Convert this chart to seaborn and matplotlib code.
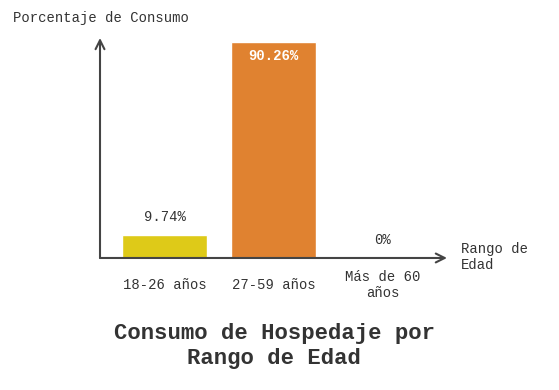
import matplotlib
matplotlib.use('Agg')
import pandas as pd
import matplotlib.pyplot as plt
import seaborn as sns

# Data
rangos = ['18-26 años', '27-59 años', 'Más de 60\naños']
consumo = [9.74, 90.26, 0.0]
etiquetas = ['9.74%', '90.26%', '0%']
colores = ['#DECA18', '#E08230', '#F2A541']

sns.set_style('white')
plt.rcParams['font.family'] = ['Liberation Mono', 'DejaVu Sans Mono']

data = pd.DataFrame({'Rango': rangos, 'Consumo': consumo})

fig = plt.figure(figsize=(5.59, 3.9), dpi=100)
ax = fig.add_axes([0.1789, 0.3385, 0.6207, 0.5641])

sns.barplot(data=data, x='Rango', y='Consumo', hue='Rango', palette=colores,
            width=0.78, saturation=1, legend=False, ax=ax)

ax.set_xlim(-0.592, 2.59)
ax.set_ylim(0, 91.9)
for s in ax.spines.values():
    s.set_visible(False)
ax.set_yticks([])
ax.set_xlabel('')
ax.set_ylabel('')
ax.tick_params(axis='x', length=0, pad=19.5, labelsize=10, labelcolor='#333333')
for lab in ax.get_xticklabels():
    lab.set_va('center')

# Axis arrows
ax.annotate('', xy=(0, 1), xytext=(0, 0), xycoords='axes fraction',
            arrowprops=dict(arrowstyle='->', color='#444444', lw=1.5,
                            mutation_scale=16, shrinkA=0, shrinkB=0))
ax.annotate('', xy=(1, 0), xytext=(0, 0), xycoords='axes fraction',
            arrowprops=dict(arrowstyle='->', color='#444444', lw=1.5,
                            mutation_scale=16, shrinkA=0, shrinkB=0))

# Value labels
for i, (v, t) in enumerate(zip(consumo, etiquetas)):
    if v > 50:
        ax.text(i, v - 6, t, ha='center', va='center', color='white',
                fontsize=10, fontweight='bold')
    else:
        ax.text(i, v + 7.5, t, ha='center', va='center', color='#333333',
                fontsize=10)

fig.text(13 / 559, 1 - 18 / 390, 'Porcentaje de Consumo', ha='left', va='center',
         fontsize=10, color='#333333')
fig.text(461 / 559, 1 - 257 / 390, 'Rango de\nEdad', ha='left', va='center',
         fontsize=10, color='#333333')
fig.text(274 / 559, 1 - 346 / 390, 'Consumo de Hospedaje por\nRango de Edad',
         ha='center', va='center', fontsize=16, fontweight='bold',
         color='#333333', linespacing=1.2)

fig.savefig('out.png', dpi=100)
